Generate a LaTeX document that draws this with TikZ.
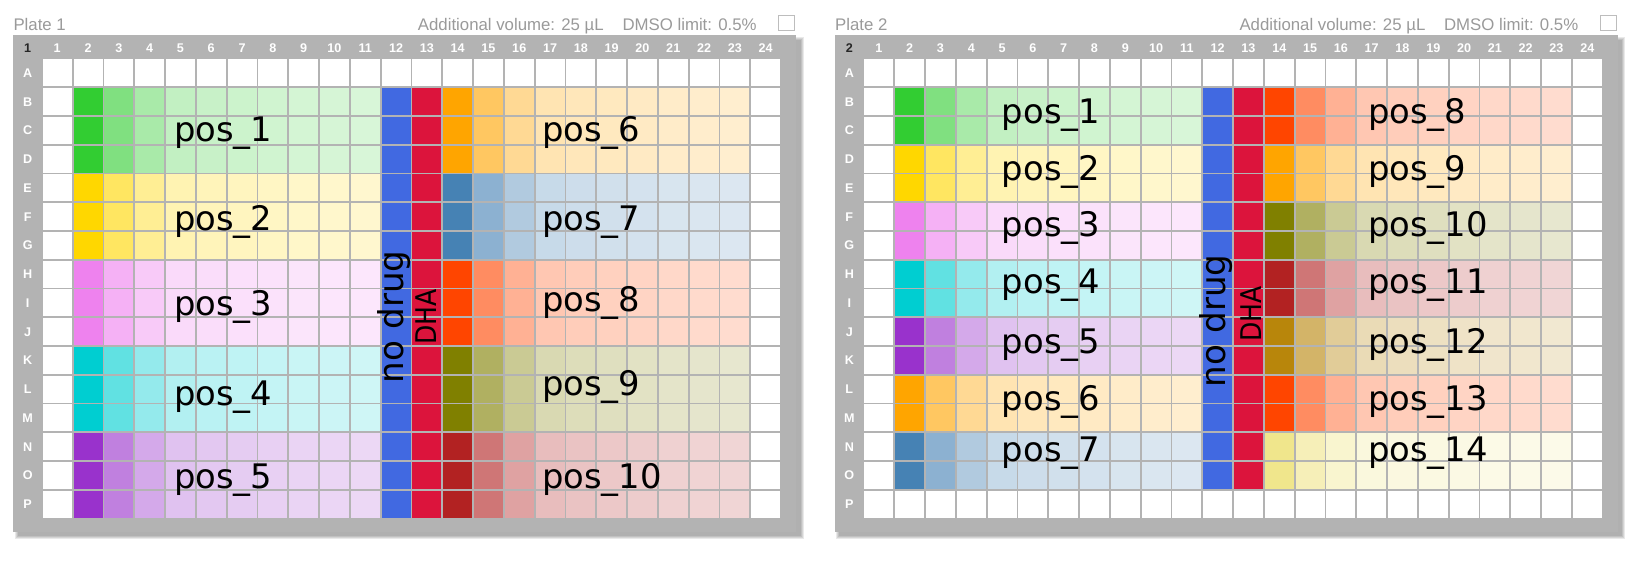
\documentclass[tikz,border=0pt]{standalone}
\usepackage{fontspec}
\setmainfont{Liberation Sans}
\newfontfamily\labfont{DejaVu Sans}
\usepackage{graphicx}
\definecolor{cLime}{HTML}{32CD32}
\definecolor{cGold}{HTML}{FFD700}
\definecolor{cViolet}{HTML}{EE82EE}
\definecolor{cTurq}{HTML}{00CED1}
\definecolor{cOrchid}{HTML}{9932CC}
\definecolor{cOrange}{HTML}{FFA500}
\definecolor{cSteel}{HTML}{4682B4}
\definecolor{cOrRed}{HTML}{FF4500}
\definecolor{cOlive}{HTML}{808000}
\definecolor{cFire}{HTML}{B22222}
\definecolor{cGoldrod}{HTML}{B8860B}
\definecolor{cKhaki}{HTML}{F0E68C}
\definecolor{cRoyal}{HTML}{4169E1}
\definecolor{cCrimson}{HTML}{DC143C}
\definecolor{frameg}{HTML}{B3B3B3}
\definecolor{titleg}{HTML}{9A9A9A}
\definecolor{chkg}{HTML}{BDBDBD}
\tikzset{
  ttl/.style={font=\fontsize{16.8}{20}\selectfont, text=titleg, inner sep=0pt, anchor=base west},
  hdr/.style={font=\fontsize{12.6}{14}\selectfont\bfseries, text=white, inner sep=0pt, anchor=base},
  cornerlab/.style={font=\fontsize{12.6}{14}\selectfont\bfseries, text=black!85, inner sep=0pt, anchor=base},
  chk/.style={draw=chkg, fill=white, line width=1pt, minimum size=15.5pt, inner sep=0pt},
  lab/.style={font=\labfont\fontsize{33.8}{40}\selectfont, text=black, inner sep=0pt, anchor=base west},
  vlab/.style={font=\labfont\fontsize{34.2}{40}\selectfont, text=black, inner sep=0pt, rotate=90, anchor=base},
  dlab/.style={font=\labfont\fontsize{28.5}{34}\selectfont, text=black, inner sep=0pt, rotate=90, anchor=base},
}
% gradient band: #1 xshift, #2 first column, #3 row index (A=0), #4 colour
\newcommand\band[4]{%
  \foreach \k/\p in {0/100,1/62,2/42,3/30,4/27,5/25,6/23,7/21,8/20,9/19}{%
    \fill[#4!\p!white] ({#1+42.7+(#2+\k-1)*30.8},{59.3+#3*28.75}) rectangle ++(29.1,27.1);}}
% solid column: #1 xshift, #2 column, #3 first row, #4 last row, #5 colour
\newcommand\solidcol[5]{%
  \foreach \r in {#3,...,#4}{%
    \fill[#5] ({#1+42.7+(#2-1)*30.8},{59.3+\r*28.75}) rectangle ++(29.1,27.1);}}
\newcommand\plate[2]{%
  \begin{scope}[shift={(#1,0)}]
    \foreach \d in {0,1,2,3}{\fill[black,opacity=0.085] ({17.8-\d},{39.5-\d}) rectangle ({800.5+\d},{536.2+\d});}
    \fill[frameg] (13.3,35) rectangle (796,531.7);
    \node[ttl] (title#2) at (13.3,30) {Plate #2};
    \node[ttl] (vol#2) at (417.7,30) {Additional volume: 25 µL};
    \node[ttl] (dmso#2) at (622.3,30) {DMSO limit: 0.5\%};
    \node[chk] (box#2) at (786.7,22.9) {};
    \node[cornerlab] (corner#2) at (27.7,52.3) {#2};
    \foreach \i in {1,...,24}{\node[hdr] (col#2x\i) at ({42.7+(\i-1)*30.8+14.55},52.3) {\i};}
    \foreach \L [count=\j from 0] in {A,...,P}{\node[hdr] (row#2x\L) at (27.7,{77.3+\j*28.75}) {\L};}
    \foreach \i in {0,...,23}{\foreach \j in {0,...,15}{%
      \fill[white] ({42.7+\i*30.8},{59.3+\j*28.75}) rectangle ++(29.1,27.1);}}
  \end{scope}}
\begin{document}
\begin{tikzpicture}[x=1pt,y=-1pt]
\useasboundingbox (0,0) rectangle (1642,563);
\fill[white] (0,0) rectangle (1642,563);
% ---------- Plate 1 ----------
\plate{0}{1}
\foreach \c [count=\g from 0] in {cLime,cGold,cViolet,cTurq,cOrchid}{%
  \foreach \rr in {1,2,3}{\pgfmathtruncatemacro\row{\g*3+\rr}\band{0}{2}{\row}{\c}}}
\foreach \c [count=\g from 0] in {cOrange,cSteel,cOrRed,cOlive,cFire}{%
  \foreach \rr in {1,2,3}{\pgfmathtruncatemacro\row{\g*3+\rr}\band{0}{14}{\row}{\c}}}
\solidcol{0}{12}{1}{15}{cRoyal}
\solidcol{0}{13}{1}{15}{cCrimson}
\node[lab] (a1) at (174,141.7) {pos\_1};
\node[lab] (a2) at (174,230) {pos\_2};
\node[lab] (a3) at (174,315) {pos\_3};
\node[lab] (a4) at (174,405) {pos\_4};
\node[lab] (a5) at (174,488.3) {pos\_5};
\node[lab] (a6) at (542,141.7) {pos\_6};
\node[lab] (a7) at (542,230) {pos\_7};
\node[lab] (a8) at (542,311.7) {pos\_8};
\node[lab] (a9) at (542,395) {pos\_9};
\node[lab] (a10) at (542,488.3) {pos\_10};
\node[vlab] (nodrug1) at (403.3,316.7) {no drug};
\node[dlab] (dha1) at (436.7,317.2) {\scalebox{0.88}[1]{DHA}};
% ---------- Plate 2 ----------
\plate{821.6}{2}
\foreach \c [count=\g from 0] in {cLime,cGold,cViolet,cTurq,cOrchid,cOrange,cSteel}{%
  \foreach \rr in {1,2}{\pgfmathtruncatemacro\row{\g*2+\rr}\band{821.6}{2}{\row}{\c}}}
\foreach \c [count=\g from 0] in {cOrRed,cOrange,cOlive,cFire,cGoldrod,cOrRed,cKhaki}{%
  \foreach \rr in {1,2}{\pgfmathtruncatemacro\row{\g*2+\rr}\band{821.6}{14}{\row}{\c}}}
\solidcol{821.6}{12}{1}{14}{cRoyal}
\solidcol{821.6}{13}{1}{14}{cCrimson}
\node[lab] (b1) at (1001.7,123.3) {pos\_1};
\node[lab] (b2) at (1001.7,180) {pos\_2};
\node[lab] (b3) at (1001.7,236) {pos\_3};
\node[lab] (b4) at (1001.7,293.3) {pos\_4};
\node[lab] (b5) at (1001.7,353.3) {pos\_5};
\node[lab] (b6) at (1001.7,410) {pos\_6};
\node[lab] (b7) at (1001.7,461.7) {pos\_7};
\node[lab] (b8) at (1368,123.3) {pos\_8};
\node[lab] (b9) at (1368,180) {pos\_9};
\node[lab] (b10) at (1368,236) {pos\_10};
\node[lab] (b11) at (1368,293.3) {pos\_11};
\node[lab] (b12) at (1368,353.3) {pos\_12};
\node[lab] (b13) at (1368,410) {pos\_13};
\node[lab] (b14) at (1368,461.7) {pos\_14};
\node[vlab] (nodrug2) at (1225,320.8) {no drug};
\node[dlab] (dha2) at (1261.7,314.2) {\scalebox{0.88}[1]{DHA}};
\end{tikzpicture}
\end{document}
